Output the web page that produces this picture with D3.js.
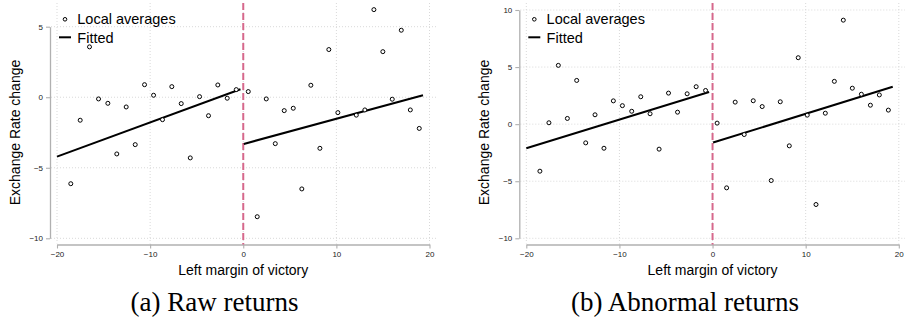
<!DOCTYPE html>
<html>
<head>
<meta charset="utf-8">
<script src="https://cdn.jsdelivr.net/npm/d3@7"></script>
<style>
  body { margin: 0; background: #fff; }
  svg { display: block; font-family: "Liberation Sans", Arial, sans-serif; }
</style>
</head>
<body>
<div id="chart"></div>
<script>
// bin centres and local averages
const rawX = [-18.52, -17.51, -16.51, -15.54, -14.54, -13.58, -12.57, -11.6, -10.6, -9.63,
  -8.67, -7.67, -6.66, -5.69, -4.69, -3.73, -2.73, -1.72, -0.75,
  0.54, 1.5, 2.47, 3.44, 4.4, 5.37, 6.29, 7.26, 8.23, 9.19, 10.16,
  12.14, 13.06, 14.03, 14.99, 16.0, 16.97, 17.94, 18.9];
const rawY = [-6.13, -1.63, 3.57, -0.12, -0.43, -4.02, -0.69, -3.36, 0.89, 0.14,
  -1.59, 0.75, -0.45, -4.3, 0.04, -1.31, 0.87, -0.07, 0.54,
  0.4, -8.47, -0.12, -3.29, -0.95, -0.78, -6.5, 0.85, -3.62, 3.38, -1.09,
  -1.27, -0.9, 6.21, 3.23, -0.14, 4.75, -0.9, -2.21];

const abnX = [-18.54, -17.57, -16.56, -15.59, -14.59, -13.62, -12.62, -11.66, -10.65, -9.68,
  -8.68, -7.71, -6.71, -5.74, -4.73, -3.76, -2.73, -1.76, -0.75,
  0.49, 1.51, 2.43, 3.4, 4.37, 5.33, 6.3, 7.27, 8.24, 9.2, 10.17,
  11.11, 12.11, 13.08, 14.04, 15.01, 15.98, 16.95, 17.91, 18.88];
const abnY = [-4.12, 0.12, 5.15, 0.5, 3.83, -1.64, 0.82, -2.11, 2.04, 1.62,
  1.13, 2.4, 0.91, -2.19, 2.72, 1.05, 2.66, 3.28, 2.95,
  0.09, -5.58, 1.93, -0.91, 2.05, 1.54, -4.94, 1.96, -1.9, 5.82, 0.79,
  -7.04, 0.96, 3.75, 9.11, 3.15, 2.62, 1.66, 2.56, 1.23];

// fitted lines, [x, y] at both ends of each side
const rawFitLeft = [[-20, -4.21], [-0.3, 0.57]];
const rawFitRight = [[0.06, -3.31], [19.3, 0.14]];
const abnFitLeft = [[-20, -2.11], [-0.37, 2.81]];
const abnFitRight = [[0.06, -1.61], [19.35, 3.28]];

const xTicks = [-20, -10, 0, 10, 20];
const rawYTicks = [-10, -5, 0, 5];
const abnYTicks = [-10, -5, 0, 5, 10];

const width = 905, height = 320;

const svg = d3.select("#chart").append("svg")
  .attr("width", width)
  .attr("height", height);

function panel(opt) {
  const g = svg.append("g");
  const x = d3.scaleLinear([-20, 20], [opt.left + 7, opt.left + 379.5]);
  const y = d3.scaleLinear(opt.yDomain, [238.3, opt.yTop]);
  const right = opt.left + 386.5;
  const top = 3, bottom = 244.5;

  // gridlines
  const grid = g.append("g")
    .attr("stroke", "#d9d9d9")
    .attr("stroke-width", 1)
    .attr("stroke-dasharray", "1,2");
  grid.selectAll("line.h").data(opt.yTicks).join("line")
    .attr("x1", opt.left + 1).attr("x2", right)
    .attr("y1", (d) => y(d)).attr("y2", (d) => y(d));
  grid.selectAll("line.v").data(xTicks).join("line")
    .attr("x1", (d) => x(d)).attr("x2", (d) => x(d))
    .attr("y1", top).attr("y2", bottom - 1);

  // axes
  const xAxis = g.append("g")
    .attr("transform", `translate(0,${bottom})`)
    .call(d3.axisBottom(x).tickValues(xTicks).tickSize(4).tickSizeOuter(0).tickPadding(3));
  const yAxis = g.append("g")
    .attr("transform", `translate(${opt.left},0)`)
    .call(d3.axisLeft(y).tickValues(opt.yTicks).tickSize(4).tickSizeOuter(0).tickPadding(3));
  [xAxis, yAxis].forEach((a) => {
    a.select(".domain").attr("stroke", "#b0b0b0").attr("stroke-width", 1.3);
    a.selectAll(".tick line").attr("stroke", "#b0b0b0").attr("stroke-width", 1.1);
    a.selectAll(".tick text").attr("fill", "#222").style("font-size", "8px");
  });

  // cutoff
  g.append("line")
    .attr("x1", x(0)).attr("x2", x(0))
    .attr("y1", top).attr("y2", bottom)
    .attr("stroke", "#d6688c")
    .attr("stroke-width", 2)
    .attr("stroke-dasharray", "7,3");

  // fitted lines
  const line = d3.line().x((d) => x(d[0])).y((d) => y(d[1]));
  g.selectAll("path.fit").data(opt.fits).join("path")
    .attr("class", "fit")
    .attr("d", line)
    .attr("fill", "none")
    .attr("stroke", "#000")
    .attr("stroke-width", 2);

  // local averages
  g.append("g").selectAll("circle").data(d3.zip(opt.xs, opt.ys)).join("circle")
    .attr("cx", (d) => x(d[0]))
    .attr("cy", (d) => y(d[1]))
    .attr("r", 2)
    .attr("fill", "#fff")
    .attr("stroke", "#000")
    .attr("stroke-width", 1);

  // legend
  const lg = g.append("g").attr("transform", `translate(${opt.left},0)`);
  lg.append("circle").attr("cx", 15).attr("cy", 19.3).attr("r", 1.8)
    .attr("fill", "#fff").attr("stroke", "#000").attr("stroke-width", 1);
  lg.append("line").attr("x1", 9).attr("x2", 21).attr("y1", 37.3).attr("y2", 37.3)
    .attr("stroke", "#000").attr("stroke-width", 2);
  lg.append("text").attr("x", 27.3).attr("y", 24).style("font-size", "14.5px")
    .text("Local averages");
  lg.append("text").attr("x", 27.3).attr("y", 42.7).style("font-size", "14.5px")
    .text("Fitted");

  // titles
  g.append("text")
    .attr("transform", `translate(${opt.left - 30},132.5) rotate(-90)`)
    .attr("text-anchor", "middle")
    .style("font-size", "14px")
    .text("Exchange Rate change");
  g.append("text")
    .attr("x", x(0)).attr("y", 274.5)
    .attr("text-anchor", "middle")
    .style("font-size", "14px")
    .text("Left margin of victory");
  g.append("text")
    .attr("x", opt.captionX).attr("y", 311)
    .attr("text-anchor", "middle")
    .style("font-family", "'Liberation Serif', 'Times New Roman', serif")
    .style("font-size", "27px")
    .text(opt.caption);
}

panel({
  left: 50, yDomain: [-10, 5], yTop: 26.7, yTicks: rawYTicks,
  xs: rawX, ys: rawY, fits: [rawFitLeft, rawFitRight],
  caption: "(a) Raw returns", captionX: 214.5
});
panel({
  left: 519.3, yDomain: [-10, 10], yTop: 10, yTicks: abnYTicks,
  xs: abnX, ys: abnY, fits: [abnFitLeft, abnFitRight],
  caption: "(b) Abnormal returns", captionX: 685
});
</script>
</body>
</html>
